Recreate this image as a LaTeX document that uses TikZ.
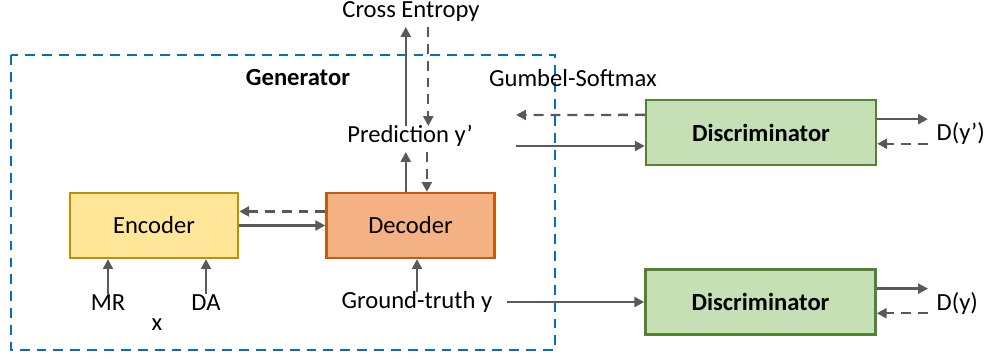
\documentclass[tikz,border=0pt]{standalone}
\usepackage{fontspec}
\setmainfont{Carlito}
\usepackage{xcolor}
\usepackage{tikz}
\usetikzlibrary{arrows.meta,positioning}

\definecolor{encfill}{HTML}{FFE699}
\definecolor{encline}{HTML}{BF9000}
\definecolor{decfill}{HTML}{F4B183}
\definecolor{decline}{HTML}{C55A11}
\definecolor{discfill}{HTML}{C5E0B4}
\definecolor{discline}{HTML}{548235}
\definecolor{arrowgray}{HTML}{595959}
\definecolor{genblue}{HTML}{0070C0}

\begin{document}
\begin{tikzpicture}[
    x=0.025cm, y=-0.025cm,
    font=\fontsize{17.5}{21}\selectfont,
    box/.style={rectangle, draw, line width=1.7pt, minimum width=4.2cm, minimum height=1.62cm, align=center},
    discbox/.style={box, fill=discfill, draw=discline, minimum width=5.75cm, font=\fontsize{17.5}{21}\selectfont\bfseries},
    label/.style={inner sep=4pt, text height=0.75em, text depth=0.25em},
    arrow/.style={-{Triangle[length=7pt, width=7pt]}, line width=1.7pt, draw=arrowgray, color=arrowgray},
    back/.style={arrow, dash pattern=on 7pt off 5pt},
    groupbox/.style={draw=genblue, line width=1.9pt, dash pattern=on 7pt off 5pt}
]
    \useasboundingbox (0,0) rectangle (989,358);

    % Generator
    \draw[groupbox] (11,55) rectangle (555,350);
    \node[label, font=\fontsize{17.5}{21}\selectfont\bfseries] (gen) at (298,82) {Generator};

    \node[box, fill=encfill, draw=encline] (encoder) at (154,225.5) {Encoder};
    \node[box, fill=decfill, draw=decline] (decoder) at (410.5,225.5) {Decoder};

    \node[label] (mr) at (108,307) {MR};
    \node[label] (da) at (206,307) {DA};
    \node[label] (xin) at (157,327) {x};
    \node[label, inner xsep=10pt] (gt) at (417,305) {Ground-truth y};

    \node[label] (pred) at (410,139) {Prediction y’};
    \node[label] (ce) at (411,14) {Cross Entropy};
    \node[label] (gumbel) at (573,83) {Gumbel-Softmax};

    % Discriminators
    \node[discbox] (disc1) at (761,132.5) {Discriminator};
    \node[discbox] (disc2) at (760.5,302) {Discriminator};
    \node[label, anchor=west, inner xsep=6pt] (dy1) at (928,137) {D(y’)};
    \node[label, anchor=west, inner xsep=6pt] (dy2) at (928,307) {D(y)};

    \coordinate (fakeout) at (516,115);
    \coordinate (fakein) at (516,146);

    % Arrows
    \draw[arrow] (mr.north) -- (mr.north |- encoder.south);
    \draw[arrow] (da.north) -- (da.north |- encoder.south);
    \draw[arrow] (gt.north) -- (gt.north |- decoder.south);
    \draw[arrow] (encoder) -- (decoder);
    \draw[back] ([yshift=10pt]decoder.west) -- ([yshift=10pt]encoder.east);
    \draw[arrow] ([xshift=-3pt]pred.south |- decoder.north) -- ([xshift=-3pt]pred.south);
    \draw[back] ([xshift=12pt]pred.south) -- ([xshift=12pt]pred.south |- decoder.north);
    \draw[arrow] ([xshift=-3pt]pred.north) -- ([xshift=-3pt]pred.north |- ce.south);
    \draw[back] ([xshift=13pt]pred.north |- ce.south) -- ([xshift=13pt]pred.north);
    \draw[back] ([yshift=12.5pt]disc1.west) -- (fakeout);
    \draw[arrow] (fakein) -- (fakein -| disc1.west);
    \draw[arrow] (gt.east |- disc2.west) -- (disc2.west);
    \draw[arrow] ([yshift=9.5pt]disc1.east) -- ([yshift=9.5pt]disc1.east -| dy1.west);
    \draw[back] ([yshift=-8pt]disc1.east -| dy1.west) -- ([yshift=-8pt]disc1.east);
    \draw[arrow] ([yshift=9.5pt]disc2.east) -- ([yshift=9.5pt]disc2.east -| dy2.west);
    \draw[back] ([yshift=-8pt]disc2.east -| dy2.west) -- ([yshift=-8pt]disc2.east);
\end{tikzpicture}
\end{document}
